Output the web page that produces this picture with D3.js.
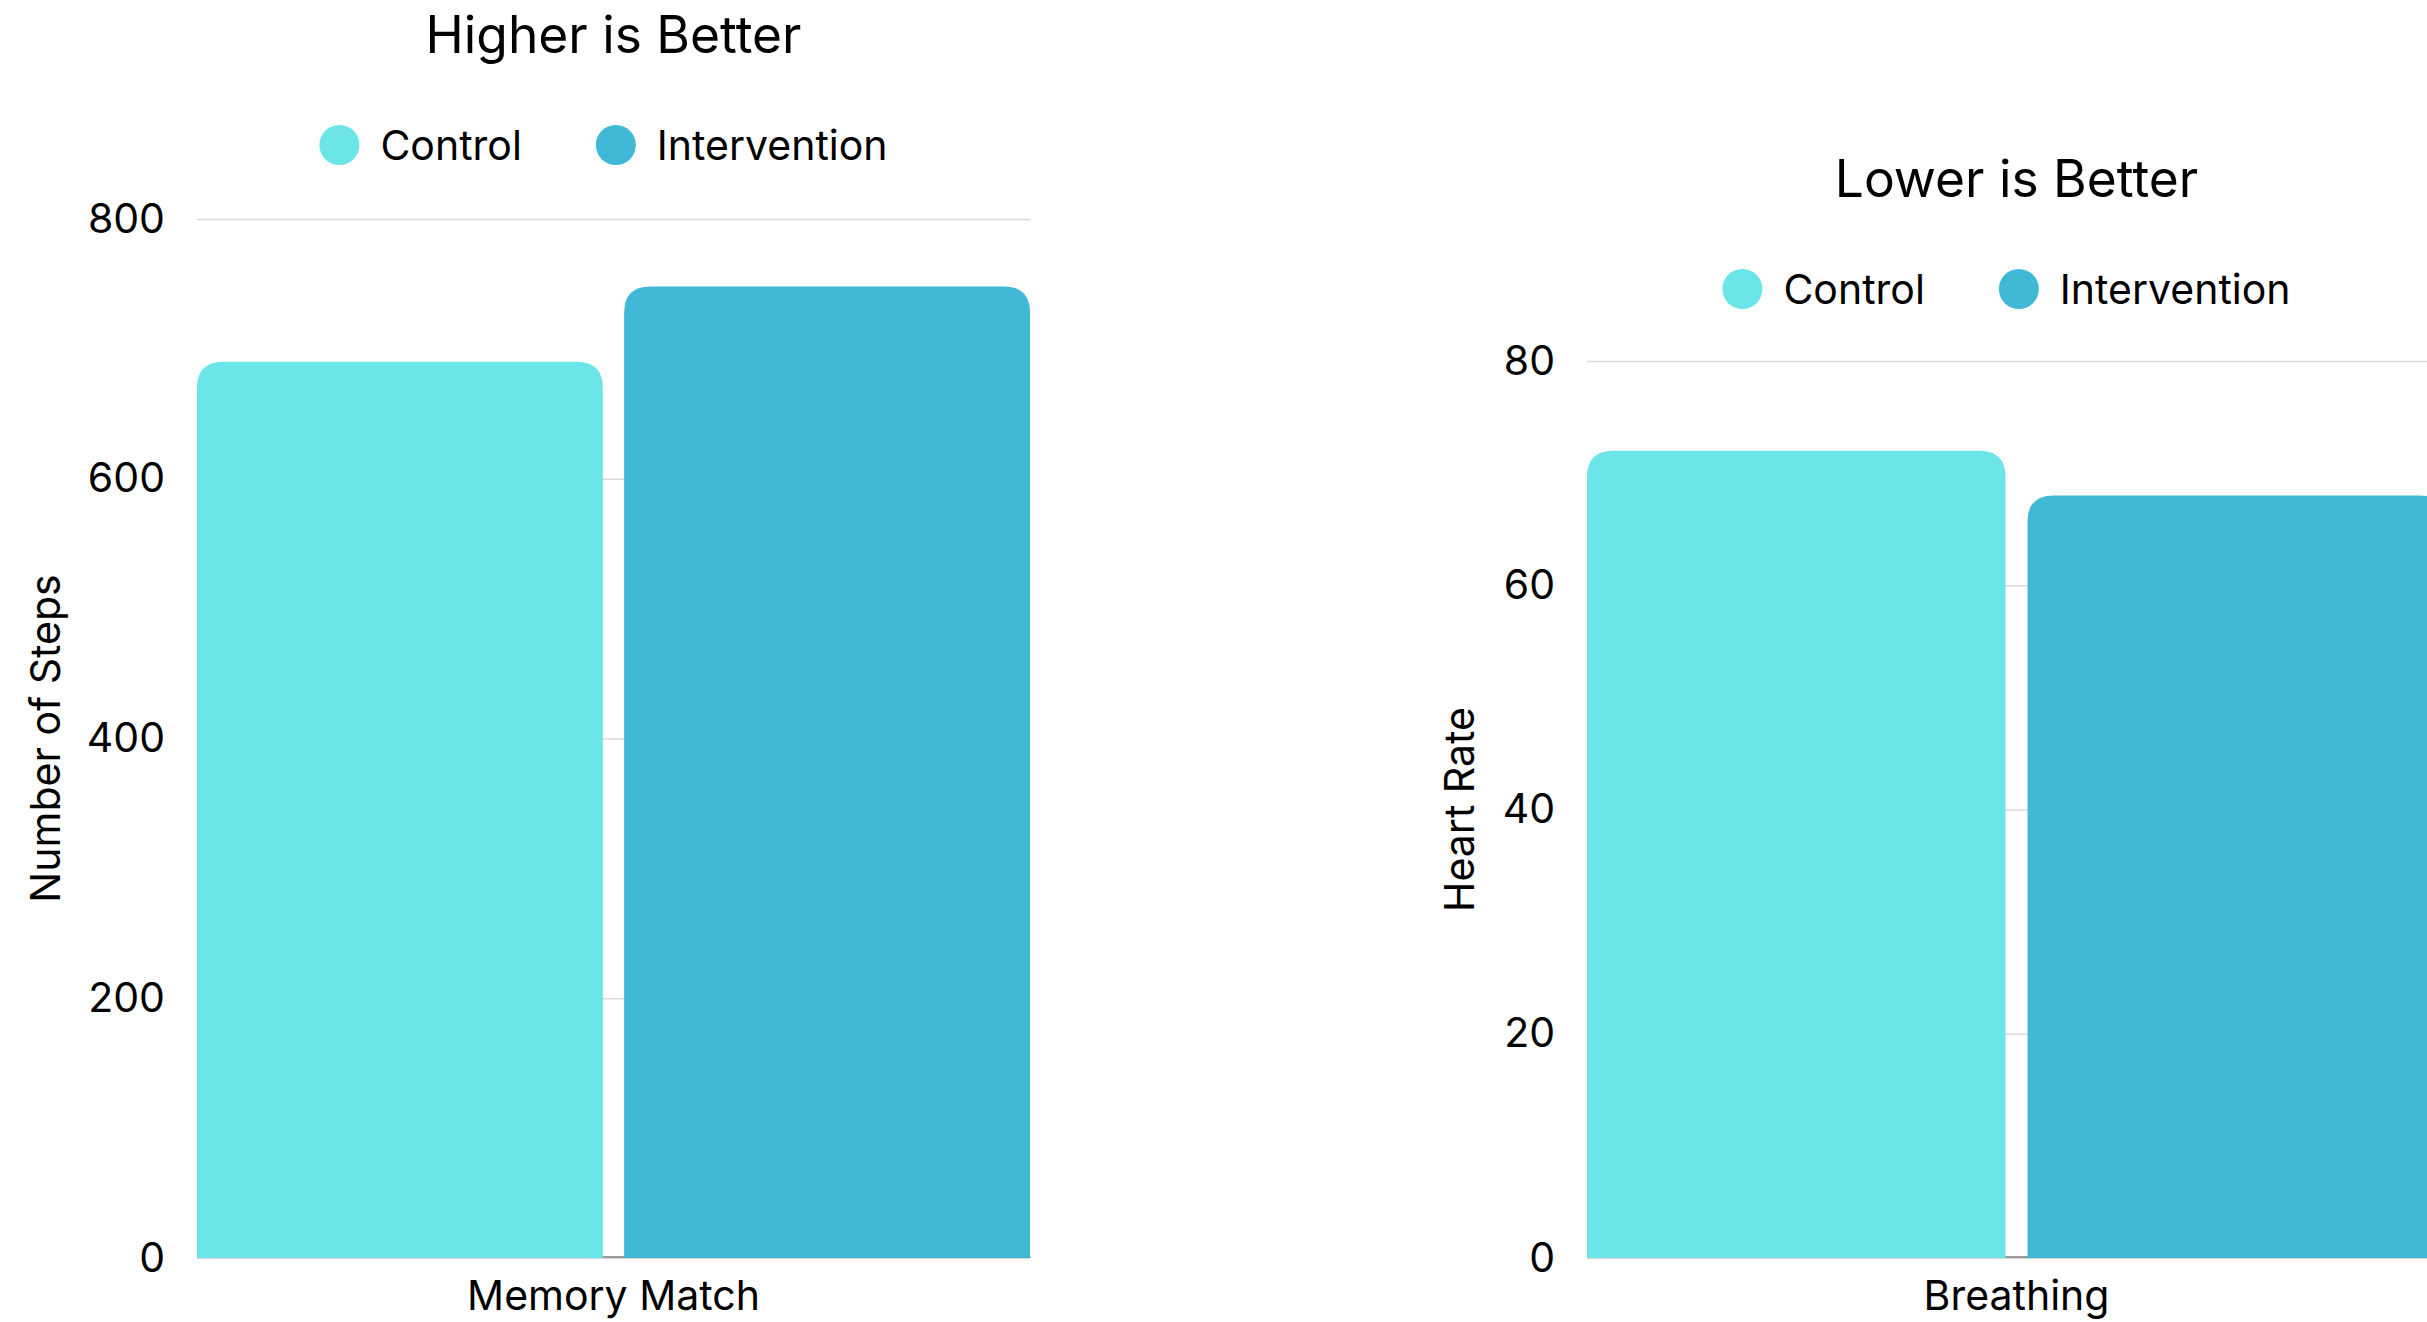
<!DOCTYPE html>
<html>
<head>
<meta charset="utf-8">
<script src="https://cdn.jsdelivr.net/npm/d3@7"></script>
<style>
  html, body { margin: 0; padding: 0; background: #fff; overflow: hidden; }
  svg { display: block; font-family: Inter, "Noto Sans", sans-serif; }
</style>
</head>
<body>
<svg id="chart" width="2427" height="1322"></svg>
<script>
  // series and labels
  const groups = ['Control', 'Intervention']
  const titles = ['Higher is Better', 'Lower is Better']
  const categories = ['Memory Match', 'Breathing']
  const yTitles = ['Number of Steps', 'Heart Rate']
  const controlValues = [690, 72]
  const interventionValues = [748, 68]
  const yTicks = [[0, 200, 400, 600, 800], [0, 20, 40, 60, 80]]

  const colors = d3.scaleOrdinal(groups, ['#6ce5e8', '#41b8d5'])

  // where each panel sits on the page
  const panels = [
    {left: 197, right: 1030, top: 219, bottom: 1258, titleY: 53, legendY: 145, yTitleX: 60},
    {left: 1587, right: 2446, top: 361, bottom: 1258, titleY: 197, legendY: 289, yTitleX: 1474}
  ]

  const svg = d3.select('#chart')

  // bar with rounded top corners
  function topRounded(x, y, w, h, r) {
    r = Math.min(r, w / 2, h)
    return `M${x},${y + h}V${y + r}Q${x},${y} ${x + r},${y}H${x + w - r}Q${x + w},${y} ${x + w},${y + r}V${y + h}Z`
  }

  panels.forEach((p, i) => {
    const g = svg.append('g')
    const ticks = yTicks[i]
    const values = [controlValues[i], interventionValues[i]]

    const y = d3.scaleLinear([0, d3.max(ticks)], [p.bottom, p.top])
    const x0 = d3.scaleBand([categories[i]], [p.left, p.right]).padding(0)
    const x1 = d3.scaleBand(groups, [0, x0.bandwidth()]).paddingInner(0.05).paddingOuter(0)

    // y axis + gridlines
    g.append('g')
      .attr('transform', `translate(${p.left},0)`)
      .call(d3.axisLeft(y).tickValues(ticks).tickSize(-(p.right - p.left)).tickPadding(32))
      .call(a => a.select('.domain').remove())
      .call(a => a.selectAll('.tick line').attr('stroke', '#d9d9d9').attr('stroke-width', 1.5))
      .call(a => a.selectAll('.tick text').attr('font-size', 41).attr('fill', '#000').attr('font-family', 'Inter'))

    // x axis (the line only shows between the bars)
    g.append('g')
      .attr('transform', `translate(0,${p.bottom - 1.5})`)
      .call(d3.axisBottom(x0).tickSize(0).tickPadding(24.5))
      .call(a => a.select('.domain').attr('stroke', '#7a7a7a').attr('stroke-width', 1.5))
      .call(a => a.selectAll('.tick text').attr('font-size', 41).attr('fill', '#000').attr('font-family', 'Inter'))

    // bars
    g.append('g').selectAll('path')
      .data(groups.map((k, j) => ({key: k, value: values[j]})))
      .join('path')
        .attr('fill', d => colors(d.key))
        .attr('d', d => {
          const bx = x0(categories[i]) + x1(d.key)
          const by = y(d.value)
          return topRounded(bx, by, x1.bandwidth(), y(0) - by, 26)
        })

    // title
    const cx = (p.left + p.right) / 2
    g.append('text')
      .attr('x', cx)
      .attr('y', p.titleY)
      .attr('text-anchor', 'middle')
      .attr('font-size', 51.5)
      .text(titles[i])

    // y title
    g.append('text')
      .attr('transform', `translate(${p.yTitleX},${(p.top + p.bottom) / 2}) rotate(-90)`)
      .attr('text-anchor', 'middle')
      .attr('font-size', 41)
      .text(yTitles[i])

    // legend
    const leg = g.append('g')
    let pos = 0
    groups.forEach((k, j) => {
      const item = leg.append('g').attr('transform', `translate(${pos},0)`)
      item.append('circle')
        .attr('cx', 20).attr('cy', 0).attr('r', 20)
        .attr('fill', colors(k))
      const t = item.append('text')
        .attr('x', 61).attr('y', 0).attr('dy', '0.36em')
        .attr('font-size', 41)
        .text(k)
      pos += 61 + t.node().getComputedTextLength() + 74
    })
    const legW = pos - 74
    leg.attr('transform', `translate(${cx - 10 - legW / 2},${p.legendY})`)
  })
</script>
</body>
</html>
